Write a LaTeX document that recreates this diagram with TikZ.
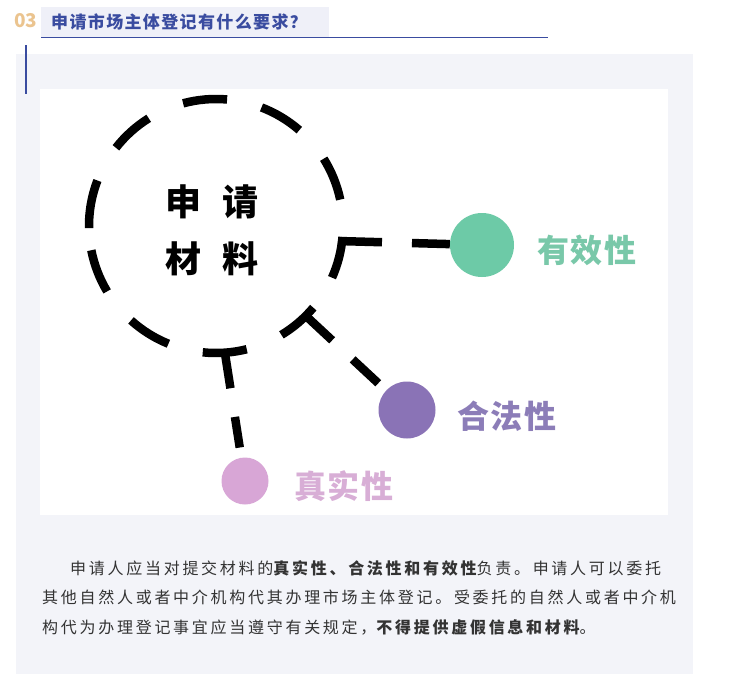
\documentclass[tikz,border=0pt]{standalone}
\usepackage{fontspec}
\setmainfont{Noto Sans CJK SC}
\newfontfamily\cjk{Noto Sans CJK SC}
\newfontfamily\cjktitle[LetterSpace=8,BoldFeatures={LetterSpace=8}]{Noto Sans CJK SC}
\newfontfamily\cjkbody[LetterSpace=17,BoldFeatures={LetterSpace=17}]{Noto Sans CJK SC}
\newfontfamily\cjklabel[LetterSpace=6,BoldFeatures={LetterSpace=6}]{Noto Sans CJK SC}
\definecolor{panelbg}{HTML}{F3F4F9}
\definecolor{titlebg}{HTML}{EFF0F8}
\definecolor{navy}{HTML}{3A4CA0}
\definecolor{gold}{HTML}{EBC48F}
\definecolor{mint}{HTML}{6DCAA7}
\definecolor{minttext}{HTML}{79C8A9}
\definecolor{violet}{HTML}{8A73B6}
\definecolor{violettext}{HTML}{8C7DB8}
\definecolor{pinkc}{HTML}{D8A6D6}
\definecolor{pinktext}{HTML}{D8AED6}
\definecolor{bodytext}{HTML}{333333}
\tikzset{
  ring/.style={line width=8.5pt, line cap=butt, black},
  spoke/.style={line width=8.5pt, line cap=butt, black},
  dot/.style={circle, inner sep=0pt, draw=none},
  quality/.style={inner sep=0pt, font=\cjklabel\bfseries\fontsize{32}{36}\selectfont},
  bodyline/.style={anchor=west, inner sep=0pt, text=bodytext, font=\cjkbody\fontsize{16}{18}\selectfont}
}
\begin{document}
\begin{tikzpicture}[x=1pt,y=-1pt]
\useasboundingbox (0,0) rectangle (729,689);
\fill[white] (0,0) rectangle (729,689);
% heading
\fill[titlebg] (41,7) rectangle (329,37);
\node[inner sep=0pt, text=gold, font=\bfseries\fontsize{19}{20}\selectfont] (num) at (26,21) {03};
\node[anchor=west, inner sep=0pt, text=navy, font=\cjktitle\bfseries\fontsize{17}{18}\selectfont] (title) at (51,22) {申请市场主体登记有什么要求？};
\coordinate (ulA) at (41,37.5);
\coordinate (ulB) at (548,37.5);
\draw[navy, line width=1.2pt] (ulA) -- (ulB);
% panel
\fill[panelbg] (16,54) rectangle (693,674);
\fill[white] (40,89) rectangle (668,515);
\coordinate (vlA) at (26,45);
\coordinate (vlB) at (26,94);
\draw[navy, line width=1.2pt] (vlA) -- (vlB);
% hub
\node[circle, inner sep=0pt, minimum size=254pt] (hub) at (216,226) {};
\node[inner sep=0pt, align=center, font=\cjk\bfseries\fontsize{36}{57}\selectfont] (hubtext) at (212,230) {申\hspace{22pt}请\\材\hspace{22pt}料};
\foreach \a/\b in {-105/-85,-69/-49,-32/-12,5/24,40/59,76/96,112/132,149/169,179/201,218/238}
  \draw[ring] ([shift={(\a:127)}]hub.center) arc[start angle=\a, end angle=\b, radius=127];
% quality dots
\node[dot, fill=mint, minimum size=64pt] (valid) at (482,245) {};
\node[dot, fill=violet, minimum size=57pt] (legal) at (407,410) {};
\node[dot, fill=pinkc, minimum size=47pt] (true) at (245,481) {};
\node[quality, text=minttext] (validtxt) at (587,250) {有效性};
\node[quality, text=violettext] (legaltxt) at (507,416) {合法性};
\node[quality, text=pinktext] (truetxt) at (344,486) {真实性};
% spokes
\coordinate (sR) at (338,241);
\coordinate (sBR) at ([shift={(45:127)}]hub.center);
\coordinate (sB) at ([shift={(86:127)}]hub.center);
\draw[spoke, dash pattern=on 44pt off 30pt on 200pt] (sR) -- (valid);
\draw[spoke, dash pattern=on 36pt off 28pt on 35pt off 200pt] (sBR) -- (legal);
\draw[spoke, dash pattern=on 36pt off 29pt on 31pt off 200pt] (sB) -- (true);
% body text
\node[bodyline] (body1) at (70,568) {申请人应当对提交材料的{\bfseries 真实性、合法性和有效性}负责。申请人可以委托};
\node[bodyline] (body2) at (42,597.5) {其他自然人或者中介机构代其办理市场主体登记。受委托的自然人或者中介机};
\node[bodyline] (body3) at (42,627) {构代为办理登记事宜应当遵守有关规定，{\bfseries 不得提供虚假信息和材料}。};
\end{tikzpicture}
\end{document}
